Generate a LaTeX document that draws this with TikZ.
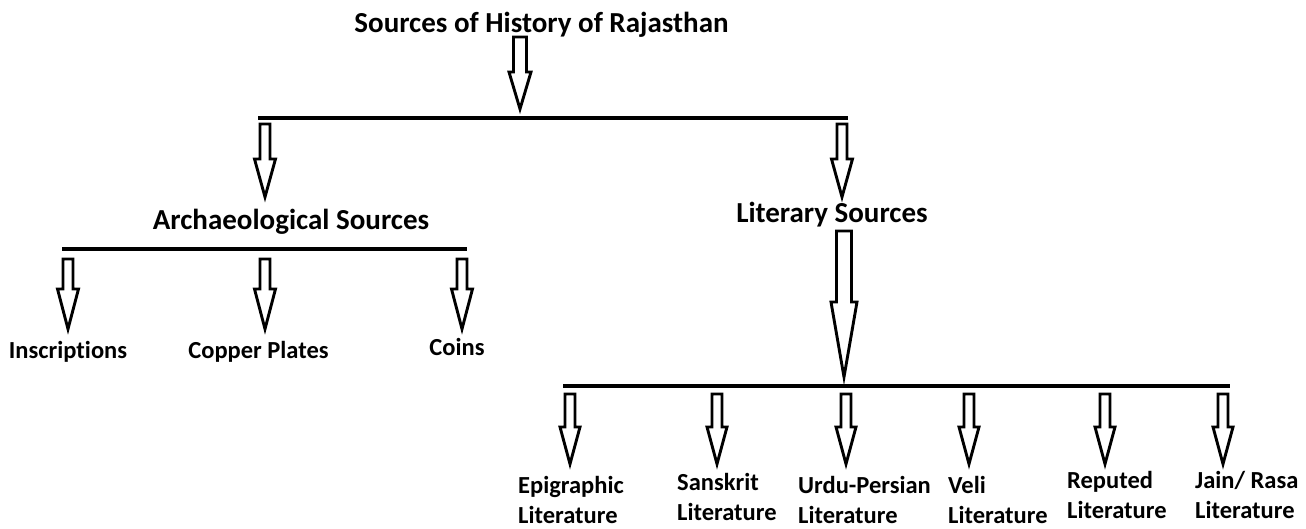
\documentclass[tikz,border=0pt]{standalone}
\usepackage{fontspec}
\setmainfont{Carlito}[Ligatures=NoCommon]
\usetikzlibrary{calc}
\newcommand{\twolines}[2]{\begin{tabular}[t]{@{}l@{}}#1\\#2\end{tabular}}

\begin{document}
\begin{tikzpicture}[x=1pt,y=-1pt,
  head node/.style={font=\fontsize{29}{34}\selectfont\bfseries,inner sep=0pt,anchor=base},
  leaf node/.style={font=\fontsize{24.5}{30}\selectfont\bfseries,inner sep=0pt,anchor=base},
  lit node/.style={font=\fontsize{24.5}{30}\selectfont\bfseries,inner sep=0pt,anchor=base west},
  bar/.style={line width=3.5pt},
  block/.style args={#1/#2/#3}{line width=2.9pt,line join=miter,
    to path={let \p1=(\tikztostart),\p2=(\tikztotarget) in
      (\x1-#1pt,\y1) -- (\x1-#1pt,\y2+#3pt) -- (\x1-#2pt,\y2+#3pt) -- (\x2,\y2)
      -- (\x1+#2pt,\y2+#3pt) -- (\x1+#1pt,\y2+#3pt) -- (\x1+#1pt,\y1) -- cycle}}]

  \useasboundingbox (0,0) rectangle (1306,528);

  % headings
  \node[head node] (root) at (541.5,32) {Sources of History of Rajasthan};
  \node[head node] (arch) at (291,229) {Archaeological Sources};
  \node[head node] (lit) at (832,222) {Literary Sources};

  % archaeological sources
  \node[leaf node] (insc) at (68,358) {Inscriptions};
  \node[leaf node] (copper) at (258.5,358) {Copper Plates};
  \node[leaf node] (coins) at (457,355) {Coins};

  % literary sources
  \node[lit node] (epi) at (518,493) {\twolines{Epigraphic}{Literature}};
  \node[lit node] (sans) at (677,490) {\twolines{Sanskrit}{Literature}};
  \node[lit node] (urdu) at (798,493) {\twolines{Urdu-Persian}{Literature}};
  \node[lit node] (veli) at (948,493) {\twolines{Veli}{Literature}};
  \node[lit node] (rep) at (1067,488) {\twolines{Reputed}{Literature}};
  \node[lit node] (jain) at (1195,488) {\twolines{Jain/ Rasa}{Literature}};

  % bars
  \coordinate (mainL) at (258,118);
  \coordinate (mainR) at (848,118);
  \coordinate (archL) at (62,249);
  \coordinate (archR) at (467,249);
  \coordinate (litL) at (563,386);
  \coordinate (litR) at (1230,386);
  \draw[bar] (mainL) -- (mainR);
  \draw[bar] (archL) -- (archR);
  \draw[bar] (litL) -- (litR);

  % arrow ends
  \coordinate (r0) at (520,37);   \coordinate (r1) at (520,109);
  \coordinate (a0) at (265,124);  \coordinate (a1) at (265,197);
  \coordinate (l0) at (842,124);  \coordinate (l1) at (842,197);
  \coordinate (b0) at (844,231);  \coordinate (b1) at (844,377);

  \draw[block=6.5/11/37] (r0) to (r1);
  \draw[block=5/10.5/38] (a0) to (a1);
  \draw[block=5/10.5/38] (l0) to (l1);
  \draw[block=7.5/13/75] (b0) to (b1);

  \foreach \x/\nm in {68/i,265/c,462/k}{
    \coordinate (\nm0) at (\x,259);
    \coordinate (\nm1) at (\x,329);
    \draw[block=5/10.5/40] (\nm0) to (\nm1);
  }

  \foreach \x/\nm in {570/e,717/s,846/u,969/v,1105/p,1223/j}{
    \coordinate (\nm0) at (\x,394);
    \coordinate (\nm1) at (\x,464);
    \draw[block=5/10/37] (\nm0) to (\nm1);
  }
\end{tikzpicture}
\end{document}
